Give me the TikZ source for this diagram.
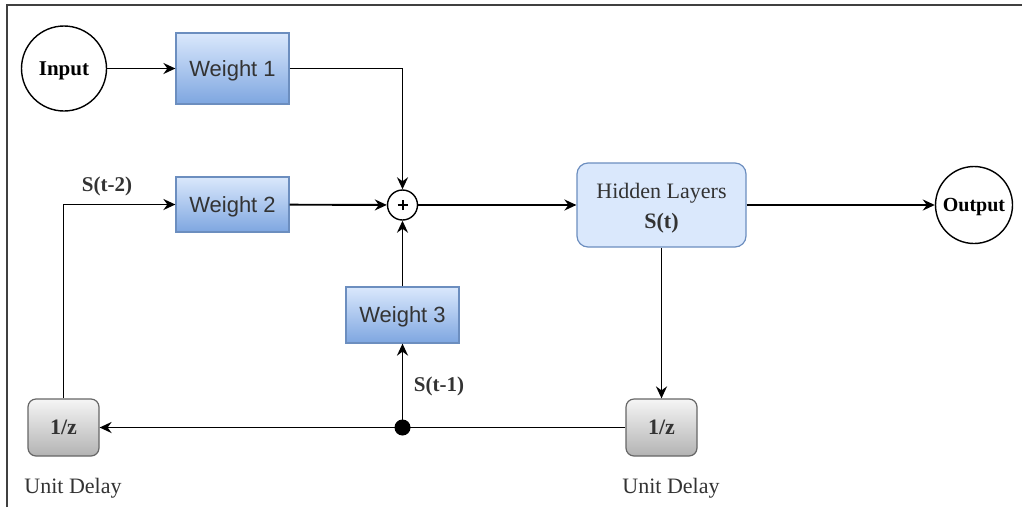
\documentclass[tikz,border=0pt]{standalone}
\usepackage{fontspec}
\setmainfont{Liberation Serif}
\newfontfamily\arialfont{Liberation Sans}
\usetikzlibrary{arrows.meta}

\definecolor{wtop}{HTML}{DAE8FC}
\definecolor{wbot}{HTML}{7EA6E0}
\definecolor{wline}{HTML}{6C8EBF}
\definecolor{gtop}{HTML}{F5F5F5}
\definecolor{gbot}{HTML}{B3B3B3}
\definecolor{gline}{HTML}{666666}
\definecolor{ink}{HTML}{333333}

\tikzset{
  wbox/.style={draw=wline, line width=1.2pt, top color=wtop, bottom color=wbot,
    minimum width=113pt, inner sep=0pt, text depth=0pt, font=\arialfont\fontsize{22}{26}\selectfont, text=ink},
  delaybox/.style={draw=gline, line width=1.2pt, rounded corners=8pt, top color=gtop, bottom color=gbot,
    minimum width=71pt, minimum height=57pt, inner sep=0pt, text depth=0pt, font=\bfseries\fontsize{22}{26}\selectfont, text=ink},
  hidbox/.style={draw=wline, line width=1.2pt, rounded corners=11pt, fill=wtop,
    minimum width=169pt, minimum height=84pt, inner sep=0pt},
  hidtext/.style={align=center, inner sep=0pt, font=\fontsize{22}{26}\selectfont, text=ink},
  term/.style={draw, circle, line width=1.4pt, inner sep=0pt, text depth=0pt, font=\bfseries\fontsize{21}{25}\selectfont},
  conn/.style={line width=1.9pt},
  arr/.style={conn, -{Stealth[length=12pt,width=11pt,inset=4pt]}},
  lbl/.style={font=\bfseries\fontsize{21}{25}\selectfont, text=ink},
  caption/.style={font=\fontsize{22}{26}\selectfont, text=ink},
  junction/.style={circle, fill=black, minimum size=16pt, inner sep=0pt},
}

\begin{document}
\begin{tikzpicture}[x=1pt,y=-1pt]
\useasboundingbox (0,0) rectangle (1022,507);

% frame edges
\draw[line width=2pt, black!75] (7,507) -- (7,5) -- (1022,5);

% nodes
\node[term, minimum size=85pt] (in) at (64,68.5) {Input};
\node[wbox, minimum height=71pt] (w1) at (232.5,68.5) {Weight 1};
\node[wbox, minimum height=55pt] (w2) at (232.5,204.5) {Weight 2};
\node[wbox, minimum height=56pt] (w3) at (402.5,315) {Weight 3};
\node[draw, circle, line width=1.4pt, minimum size=30pt, inner sep=0pt] (sum) at (402.5,205) {};
\draw[line width=2pt] ([xshift=-5pt]sum.center) -- ([xshift=5pt]sum.center)
                      ([yshift=-5pt]sum.center) -- ([yshift=5pt]sum.center);
\node[hidbox] (hid) at (661.5,205) {};
\node[hidtext] (hidlbl) at ([yshift=-3pt]hid.center) {Hidden Layers\\[4pt]\textbf{S(t)}};
\node[term, minimum size=77pt, font=\bfseries\fontsize{20}{24}\selectfont] (out) at (974,205) {Output};
\node[delaybox] (dl) at (63.5,427.5) {1/z};
\node[delaybox] (dr) at (661.5,427.5) {1/z};
\coordinate (dot) at (402.5,427.5);

% labels
\node[lbl] (s2) at (107,186) {S(t-2)};
\node[lbl] (s1) at (439,386) {S(t-1)};
\node[caption] (ul) at (73,488) {Unit Delay};
\node[caption] (ur) at (671,488) {Unit Delay};

% connectors
\draw[arr] (in) -- (w1);
\draw[arr] (w1.east) -| (sum.north);
\draw[arr] (w2) -- (sum);
\draw[arr] (w3) -- (sum);
\draw[arr] (sum) -- (hid);
\draw[arr] (hid) -- (out);
\draw[arr] (hid.south) -- (dr.north);
\draw[arr] (dr.west) -- (dl.east);
\draw[arr] (dot) -- (w3.south);
\draw[arr] (dl.north) |- (w2.west);
\node[junction] (jn) at (dot) {};
\end{tikzpicture}
\end{document}
